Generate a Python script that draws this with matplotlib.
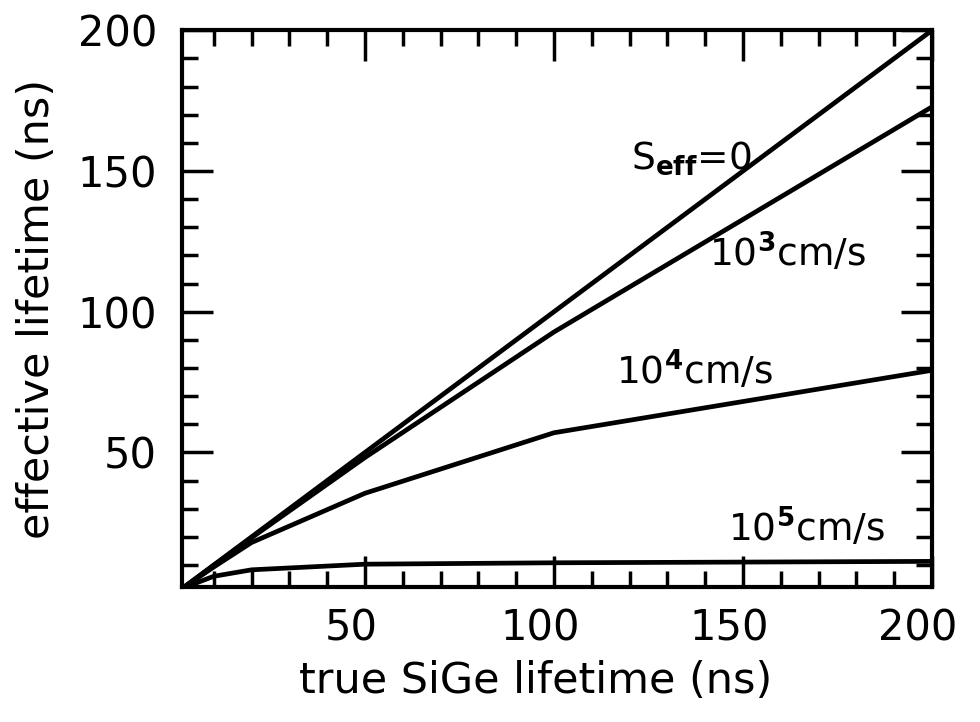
import matplotlib
matplotlib.use("Agg")
import matplotlib.pyplot as plt
from matplotlib.ticker import MultipleLocator
from matplotlib.transforms import ScaledTranslation

# true lifetime (ns) and effective lifetime (ns) for each surface recombination velocity
tau_true = [2, 10, 20, 50, 100, 200]
eff_s0 = [2, 10, 20, 50, 100, 200]
eff_1e3 = [2, 9.9, 19.7, 48.2, 92.8, 172.8]
eff_1e4 = [2, 9.3, 18.0, 35.5, 57.0, 79.2]
eff_1e5 = [1.9, 6.0, 8.3, 10.3, 10.8, 11.3]

curve_labels = [r"S$_{\mathbf{eff}}$=0", r"10$^{\mathbf{3}}$cm/s",
                r"10$^{\mathbf{4}}$cm/s", r"10$^{\mathbf{5}}$cm/s"]
label_pos = [(120.5, 151), (141, 116), (116.5, 74.5), (146, 18.5)]


def plot_lifetimes():
    plt.rcParams["mathtext.default"] = "regular"
    fig = plt.figure(figsize=(9.8, 7.22), dpi=100)
    ax = fig.add_axes([0.1857, 0.187, 0.7653, 0.771])

    for y in (eff_s0, eff_1e3, eff_1e4, eff_1e5):
        ax.plot(tau_true, y, color="black", linewidth=3.4, solid_joinstyle="round")

    for text, (x, y) in zip(curve_labels, label_pos):
        ax.text(x, y, text, fontsize=27, ha="left", va="baseline")

    ax.set_xlim(1.6, 200)
    ax.set_ylim(2.2, 200)
    ax.xaxis.set_major_locator(MultipleLocator(50))
    ax.xaxis.set_minor_locator(MultipleLocator(10))
    ax.yaxis.set_major_locator(MultipleLocator(50))
    ax.yaxis.set_minor_locator(MultipleLocator(10))

    ax.tick_params(which="both", direction="in", top=True, right=True, width=2.5)
    ax.tick_params(which="major", length=22, labelsize=30)
    ax.tick_params(which="minor", length=11.5)
    ax.tick_params(axis="x", pad=15)
    ax.tick_params(axis="y", pad=18)
    for s in ax.spines.values():
        s.set_linewidth(3)

    # x tick numbers sit a little to the left of their ticks
    shift = ScaledTranslation(-0.14, 0, fig.dpi_scale_trans)
    for lbl in ax.get_xticklabels():
        lbl.set_transform(lbl.get_transform() + shift)

    ax.set_xlabel("true SiGe lifetime (ns)", fontsize=31)
    ax.xaxis.set_label_coords(0.471, -0.131)
    ax.set_ylabel("effective lifetime (ns)", fontsize=31, labelpad=14)

    fig.savefig("out.png", dpi=100)


if __name__ == "__main__":
    plot_lifetimes()
